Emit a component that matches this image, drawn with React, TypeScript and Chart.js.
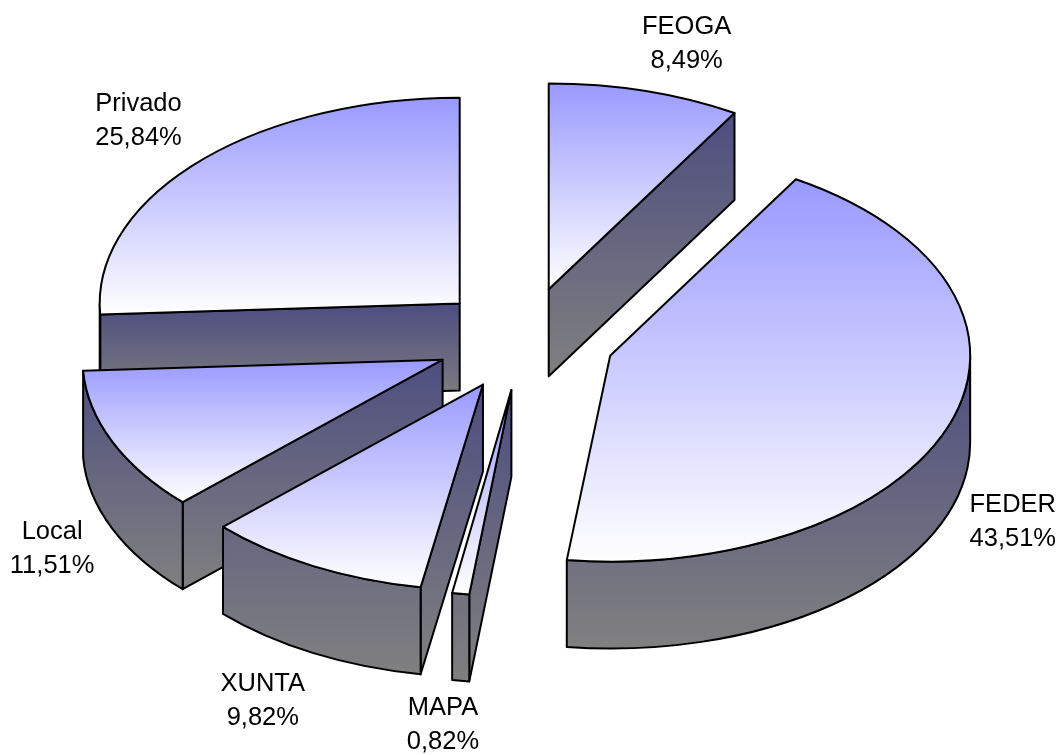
import React, { useEffect, useRef } from "react";
import { Chart, registerables } from "chart.js";

Chart.register(...registerables);

const categories = ["FEOGA", "FEDER", "MAPA", "XUNTA", "Local", "Privado"];
const shares = [8.49, 43.51, 0.82, 9.82, 11.51, 25.84];
// label position relative to the slice's rim point (first line baseline, centre)
const labelDx = [43, 62, -14, -52, -61, -60];
const labelDy = [-57, 90, 122, 124, 96, -51];
// small projection distortion of each slice's edges, in degrees
const startSkew = [0, 0.5, -0.5, -0.2, 0.7, 0];
const endSkew = [0.5, -0.3, -0.7, 0.7, 0, 0];

const TILT = 0.572;
const DEPTH = 87;
const TOP_FROM = "#9999FF";
const TOP_TO = "#FFFFFF";
const SIDE_FROM = "#4D4D80";
const SIDE_TO = "#808080";
const FONT = '25.5px "Liberation Sans", Arial, sans-serif';
const LINE_GAP = 34;
const DEG = Math.PI / 180;

const pie3d = {
  id: "pie3d",
  beforeDatasetsDraw(chart: any) {
    const ctx: CanvasRenderingContext2D = chart.ctx;
    const arcs: any[] = chart.getDatasetMeta(0).data;
    const slices = arcs.map((arc, i) => {
      const p = arc.getProps(["x", "y", "startAngle", "endAngle", "outerRadius"], true);
      const mid = (p.startAngle + p.endAngle) / 2;
      const off = arc.options.offset;
      const cx = p.x + Math.cos(mid) * off;
      const cy = p.y + Math.sin(mid) * off * TILT;
      return {
        i, cx, cy, mid,
        s: p.startAngle + startSkew[i] * DEG,
        e: p.endAngle + endSkew[i] * DEG,
        rx: p.outerRadius,
        ry: p.outerRadius * TILT,
      };
    });
    const order = [...slices].sort((a, b) => a.cy - b.cy);
    ctx.save();
    ctx.lineJoin = "round";
    ctx.lineWidth = 2;
    ctx.strokeStyle = "#000000";
    for (const sl of order) {
      const { cx, cy, s, e, rx, ry } = sl;
      const pt = (a: number) => [cx + Math.cos(a) * rx, cy + Math.sin(a) * ry];
      const [sx, sy] = pt(s);
      const [ex, ey] = pt(e);

      const showStart = Math.cos(s) < 0;
      const showEnd = Math.cos(e) > 0;
      // front part of the outer wall: angles where sin > 0
      const wallFrom = Math.max(s, 0);
      const wallTo = Math.min(e, Math.PI);
      const showWall = wallTo > wallFrom;

      const ys: number[] = [];
      if (showStart) ys.push(cy, sy, cy + DEPTH, sy + DEPTH);
      if (showEnd) ys.push(cy, ey, cy + DEPTH, ey + DEPTH);
      if (showWall) {
        ys.push(pt(wallFrom)[1], pt(wallTo)[1], pt(wallFrom)[1] + DEPTH, pt(wallTo)[1] + DEPTH);
        if (wallFrom < Math.PI / 2 && wallTo > Math.PI / 2) ys.push(cy + ry + DEPTH);
      }
      const side = ctx.createLinearGradient(0, Math.min(...ys), 0, Math.max(...ys));
      side.addColorStop(0, SIDE_FROM);
      side.addColorStop(1, SIDE_TO);
      ctx.fillStyle = side;

      const quad = (ax: number, ay: number, bx: number, by: number) => {
        ctx.beginPath();
        ctx.moveTo(ax, ay);
        ctx.lineTo(bx, by);
        ctx.lineTo(bx, by + DEPTH);
        ctx.lineTo(ax, ay + DEPTH);
        ctx.closePath();
        ctx.fill();
        ctx.stroke();
      };
      if (showStart) quad(cx, cy, sx, sy);
      if (showEnd) quad(cx, cy, ex, ey);
      if (showWall) {
        ctx.beginPath();
        ctx.ellipse(cx, cy, rx, ry, 0, wallFrom, wallTo, false);
        ctx.ellipse(cx, cy + DEPTH, rx, ry, 0, wallTo, wallFrom, true);
        ctx.closePath();
        ctx.fill();
        ctx.stroke();
      }

      const tops = [cy, sy, ey];
      if (s < -Math.PI / 2 + 1e-6 || (s < (3 * Math.PI) / 2 && e > (3 * Math.PI) / 2)) tops.push(cy - ry);
      if (s < Math.PI / 2 && e > Math.PI / 2) tops.push(cy + ry);
      const top = ctx.createLinearGradient(0, Math.min(...tops), 0, Math.max(...tops));
      top.addColorStop(0, TOP_FROM);
      top.addColorStop(1, TOP_TO);
      ctx.fillStyle = top;
      ctx.beginPath();
      ctx.moveTo(cx, cy);
      ctx.ellipse(cx, cy, rx, ry, 0, s, e, false);
      ctx.closePath();
      ctx.fill();
      ctx.stroke();
    }

    ctx.fillStyle = "#000000";
    ctx.font = FONT;
    ctx.textAlign = "center";
    ctx.textBaseline = "alphabetic";
    for (const sl of slices) {
      const lx = sl.cx + Math.cos(sl.mid) * sl.rx + labelDx[sl.i];
      const ly = sl.cy + Math.sin(sl.mid) * sl.ry + labelDy[sl.i];
      ctx.fillText(categories[sl.i], lx, ly);
      ctx.fillText(shares[sl.i].toFixed(2).replace(".", ",") + "%", lx, ly + LINE_GAP);
    }
    ctx.restore();
    return false;
  },
};

export default function App() {
  const ref = useRef<HTMLCanvasElement>(null);
  useEffect(() => {
    const chart = new Chart(ref.current!, {
      type: "pie",
      data: {
        labels: categories,
        datasets: [{ data: shares, offset: 90, borderWidth: 0 }],
      },
      options: {
        animation: false,
        responsive: false,
        radius: 360,
        layout: { padding: { top: 0, left: 0, right: 10, bottom: 77 } },
        plugins: { legend: { display: false }, tooltip: { enabled: false } },
        events: [],
      } as any,
      plugins: [pie3d as any],
    });
    return () => chart.destroy();
  }, []);
  return (
    <canvas
      ref={ref}
      width={1060}
      height={755}
      style={{ position: "absolute", left: 0, top: 0, width: 1060, height: 755, background: "#fff" }}
    />
  );
}
